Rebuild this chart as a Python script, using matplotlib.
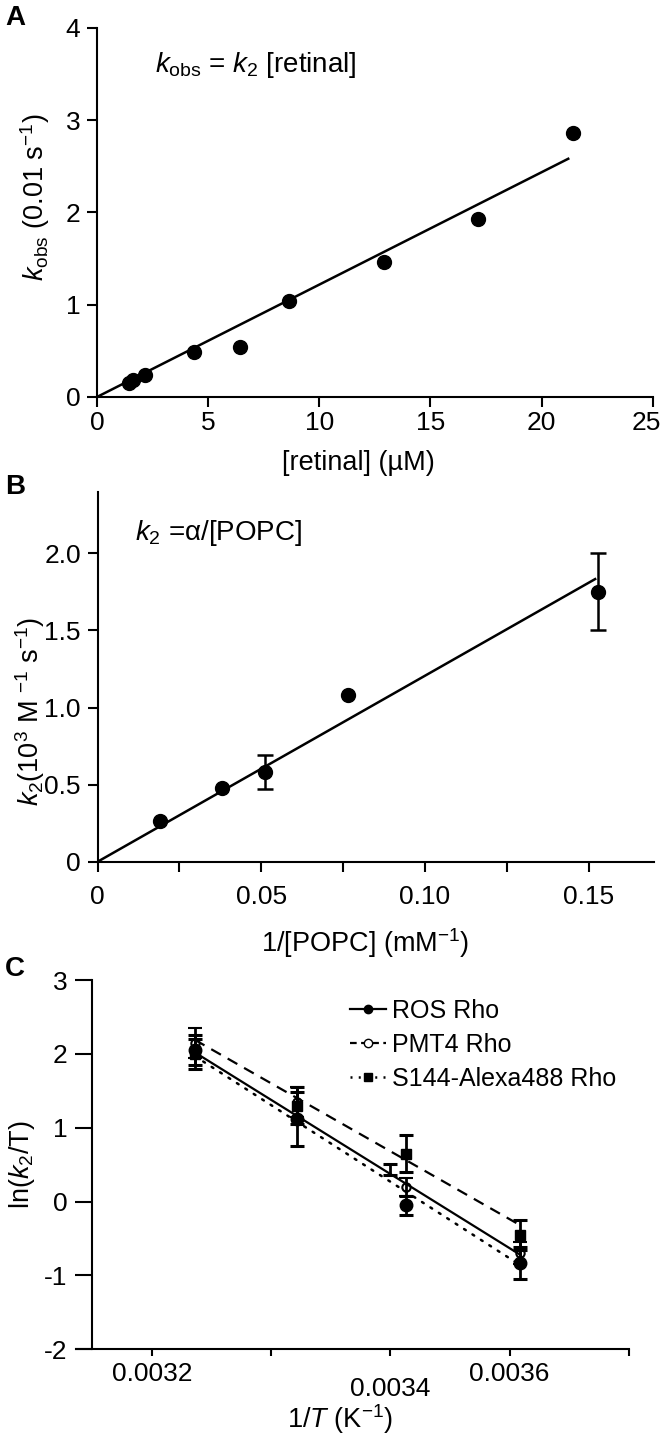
import numpy as np
import matplotlib.pyplot as plt
from matplotlib.lines import Line2D
from matplotlib.transforms import ScaledTranslation

plt.rcParams['font.family'] = ['Liberation Sans', 'DejaVu Sans']
plt.rcParams['mathtext.fontset'] = 'custom'
plt.rcParams['mathtext.rm'] = 'Liberation Sans'
plt.rcParams['mathtext.it'] = 'Liberation Sans:italic'
plt.rcParams['axes.unicode_minus'] = False
plt.rcParams['axes.linewidth'] = 1.5

# --- panel A : k_obs vs [retinal]
retinal = [1.45, 1.6, 2.15, 4.35, 6.45, 8.65, 12.9, 17.15, 21.4]
kobs = [0.15, 0.18, 0.24, 0.49, 0.54, 1.04, 1.46, 1.93, 2.86]
fit_a = (0.1218, 21.2)   # slope, last x

# --- panel B : k2 vs 1/[POPC]
popc_inv = [0.019, 0.038, 0.051, 0.0766, 0.153]
k2 = [0.265, 0.475, 0.58, 1.083, 1.752]
k2_err = [0, 0, 0.11, 0, 0.25]
fit_b = (12.06, 0.152)

# --- panel C : ln(k2/T) vs 1/T
inv_T = [0.003236, 0.003322, 0.003413, 0.003509]
ros_y = [2.05, 1.12, -0.05, -0.83]
ros_err = [0.2, 0.37, 0.13, 0.22]
pmt_y = [2.15, 1.35, 0.20, -0.70]
pmt_err = [0.2, 0.2, 0.12, 0.15]
s144_y = [2.0, 1.3, 0.65, -0.45]
s144_err = [0.2, 0.25, 0.25, 0.2]
# fit lines (y at first and last inv_T)
ros_fit = (2.02, -0.72)
pmt_fit = (2.19, -0.32)
s144_fit = (1.97, -0.86)
# stray half error bar
stray_x, stray_y, stray_up = 0.0034, 0.36, 0.15

xticks_c = [0.0032, 0.0033, 0.0034, 0.0035, 0.0036]
xticklabels_c = ['0.0032', '', '0.0034', '0.0036', '']

TICK = 19
LAB = 19.5
ANN = 20

fig = plt.figure(figsize=(6.64, 14.41), dpi=100)

def style(ax):
    ax.spines['top'].set_visible(False)
    ax.spines['right'].set_visible(False)
    ax.tick_params(width=1.5, length=7, labelsize=TICK, pad=5)

# ---------------- A
axA = fig.add_axes([0.146, 0.7245, 0.837, 0.2561])
style(axA)
axA.tick_params(axis='x', pad=3)
axA.plot(retinal, kobs, 'o', color='black', ms=10, zorder=3)
xf = np.array([0, fit_a[1]])
axA.plot(xf, fit_a[0] * xf, color='black', lw=1.8)
axA.set_xlim(0, 25)
axA.set_ylim(0, 4)
axA.set_xticks([0, 5, 10, 15, 20, 25])
axA.set_yticks([0, 1, 2, 3, 4])
# last label sits at the figure edge, nudge it in a little
lab = axA.get_xticklabels()[-1]
lab.set_transform(lab.get_transform() + ScaledTranslation(-6 / 100, 0, fig.dpi_scale_trans))
axA.text(2.6, 3.6, r'$k_{\mathrm{obs}}$ = $k_2$ [retinal]', fontsize=ANN, va='center')
axA.text(-0.111, 0.54, r'$k_{\mathrm{obs}}$ (0.01 s$^{-1}$)', rotation=90, fontsize=LAB,
         ha='center', va='center', transform=axA.transAxes)
axA.text(0.471, -0.179, '[retinal] (µM)', fontsize=LAB, ha='center', va='center',
         transform=axA.transAxes)

# ---------------- B
axB = fig.add_axes([0.147, 0.402, 0.838, 0.2568])
style(axB)
axB.plot(popc_inv, k2, 'o', color='black', ms=10, zorder=3)
mask = np.array(k2_err) > 0
axB.errorbar(np.array(popc_inv)[mask], np.array(k2)[mask], yerr=np.array(k2_err)[mask],
             fmt='none', ecolor='black', elinewidth=1.8, capsize=6, capthick=1.8)
xf = np.array([0, fit_b[1]])
axB.plot(xf, fit_b[0] * xf, color='black', lw=1.8)
axB.set_xlim(0, 0.17)
axB.set_ylim(0, 2.4)
axB.set_xticks([0, 0.05, 0.10, 0.15])
axB.set_xticklabels(['0', '0.05', '0.10', '0.15'])
axB.set_xticks([0.025, 0.075, 0.125], minor=True)
axB.tick_params(axis='x', which='minor', width=1.5, length=7)
axB.set_yticks([0, 0.5, 1.0, 1.5, 2.0])
axB.set_yticklabels(['0', '0.5', '1.0', '1.5', '2.0'])
axB.tick_params(axis='x', pad=10)
axB.text(0.0115, 2.13, r'$k_2$ =α/[POPC]', fontsize=ANN, va='center')
axB.text(-0.122, 0.407, r'$k_2$(10$^3$ M $^{-1}$ s$^{-1}$)', rotation=90, fontsize=LAB,
         ha='center', va='center', transform=axB.transAxes)
axB.text(0.48, -0.22, r'1/[POPC] (mM$^{-1}$)', fontsize=LAB, ha='center', va='center',
         transform=axB.transAxes)

# ---------------- C
axC = fig.add_axes([0.1139, 0.0636, 0.833, 0.2563])
style(axC)
axC.spines['left'].set_position(('data', 0.00315))
axC.set_xlim(0.003136, 0.0036)
axC.set_ylim(-2, 3)
xs = np.array([inv_T[0], inv_T[-1]])
axC.plot(xs, ros_fit, color='black', lw=1.6, ls='-')
axC.plot(xs, pmt_fit, color='black', lw=1.6, ls=(0, (5, 3.5)))
axC.plot(xs, s144_fit, color='black', lw=1.8, ls=(0, (0.8, 3.2)), dash_capstyle='round')
ekw = dict(ecolor='black', elinewidth=2, capsize=5, capthick=2.2)
axC.errorbar(inv_T, pmt_y, yerr=pmt_err, fmt='o', color='black', mfc='none', ms=6, mew=1.5, **ekw)
axC.errorbar(inv_T, s144_y, yerr=s144_err, fmt='s', color='black', ms=7, **ekw)
axC.errorbar(inv_T, ros_y, yerr=ros_err, fmt='o', color='black', ms=9, **ekw)
axC.errorbar([stray_x], [stray_y], yerr=[[0], [stray_up]], fmt='none', **ekw)
axC.set_xticks(xticks_c)
axC.set_xticklabels(xticklabels_c)
axC.set_yticks([-2, -1, 0, 1, 2, 3])
axC.tick_params(axis='y', length=12, pad=6)
axC.tick_params(axis='x', length=5, pad=4)
axC.xaxis.get_major_ticks()[2].set_pad(15)
axC.text(-0.097, 0.5, r'ln($k_2$/T)', rotation=90, fontsize=LAB, ha='center', va='center',
         transform=axC.transAxes)
axC.text(0.478, -0.19, r'1/$T$ (K$^{-1}$)', fontsize=LAB, ha='center', va='center',
         transform=axC.transAxes)
handles = [
    Line2D([], [], color='black', lw=1.6, ls='-', marker='o', ms=6),
    Line2D([], [], color='black', lw=1.6, ls=(0, (3, 2)), marker='o', ms=6, mfc='white'),
    Line2D([], [], color='black', lw=1.8, ls=(0, (0.8, 2.5)), marker='s', ms=6),
]
axC.legend(handles, ['ROS Rho', 'PMT4 Rho', 'S144-Alexa488 Rho'], loc='upper left',
           bbox_to_anchor=(0.496, 0.948), frameon=False, borderpad=0, borderaxespad=0,
           handlelength=1.45, handletextpad=0.24, labelspacing=0.4,
           prop={'size': 18})

# panel letters
for letter, ypx in [('A', 18), ('B', 487), ('C', 969)]:
    fig.text(15 / 664, 1 - ypx / 1441, letter, fontsize=20, fontweight='bold',
             ha='center', va='center')

fig.savefig('out.png', dpi=100, facecolor='white')
